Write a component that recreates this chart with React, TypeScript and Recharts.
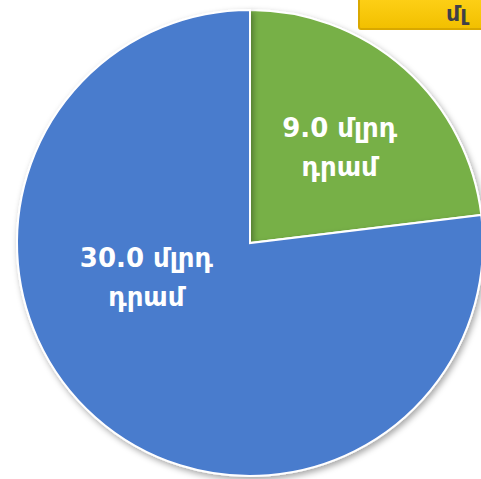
import { PieChart, Pie, Cell } from "recharts";

const names = ["green", "blue"];
const values = [9.0, 30.0];
const unitLine1 = "մլրդ";
const unitLine2 = "դրամ";
const titleVisible = "մլ";

const COLORS = ["#77B046", "#4A7BCD"];
// label anchor as angle (deg) and fraction of outer radius
const LABEL_SPOT = [
  { angle: 47.5, r: 0.57 },
  { angle: 197, r: 0.465 },
];

const data = names.map((n, i) => ({ name: n, value: values[i] }));

const RAD = Math.PI / 180;

function renderLabel(props: any) {
  const { cx, cy, outerRadius, index } = props;
  const spot = LABEL_SPOT[index];
  const x = cx + outerRadius * spot.r * Math.cos(spot.angle * RAD);
  const y = cy - outerRadius * spot.r * Math.sin(spot.angle * RAD);
  const v = values[index].toFixed(1);
  return (
    <text
      x={x}
      y={y}
      fill="#ffffff"
      textAnchor="middle"
      fontFamily="'DejaVu Sans', sans-serif"
      fontWeight="bold"
      fontSize={26}
    >
      <tspan x={x} dy={-8}>{`${v} ${unitLine1}`}</tspan>
      <tspan x={x} dy={39}>{unitLine2}</tspan>
    </text>
  );
}

export default function App() {
  return (
    <div
      style={{
        position: "absolute",
        left: 0,
        top: 0,
        width: 481,
        height: 479,
        overflow: "hidden",
        background: "#ffffff",
      }}
    >
      <PieChart width={481} height={479} margin={{ top: 0, right: 0, bottom: 0, left: 0 }}>
        <defs>
          <filter id="shade" x="-10%" y="-10%" width="120%" height="120%">
            <feDropShadow dx="2" dy="3" stdDeviation="3" floodColor="#000" floodOpacity="0.35" />
          </filter>
        </defs>
        <Pie
          data={data}
          dataKey="value"
          nameKey="name"
          cx={250}
          cy={243}
          outerRadius={233}
          startAngle={90}
          endAngle={-270}
          stroke="#ffffff"
          strokeWidth={2}
          label={renderLabel}
          labelLine={false}
          isAnimationActive={false}
          style={{ filter: "url(#shade)" }}
        >
          {data.map((d, i) => (
            <Cell key={d.name} fill={COLORS[i]} />
          ))}
        </Pie>
      </PieChart>
      <div
        style={{
          position: "absolute",
          left: 358,
          top: -8,
          width: 140,
          height: 38,
          background: "linear-gradient(#FFD21A, #F2C000)",
          border: "2px solid #D9A800",
          borderRadius: 3,
          boxSizing: "border-box",
        }}
      />
      <div
        style={{
          position: "absolute",
          left: 446,
          top: 3,
          color: "#3f3f48",
          fontFamily: "'DejaVu Sans', sans-serif",
          fontWeight: "bold",
          fontSize: 22,
          lineHeight: "22px",
          whiteSpace: "nowrap",
        }}
      >
        {titleVisible}
      </div>
    </div>
  );
}
